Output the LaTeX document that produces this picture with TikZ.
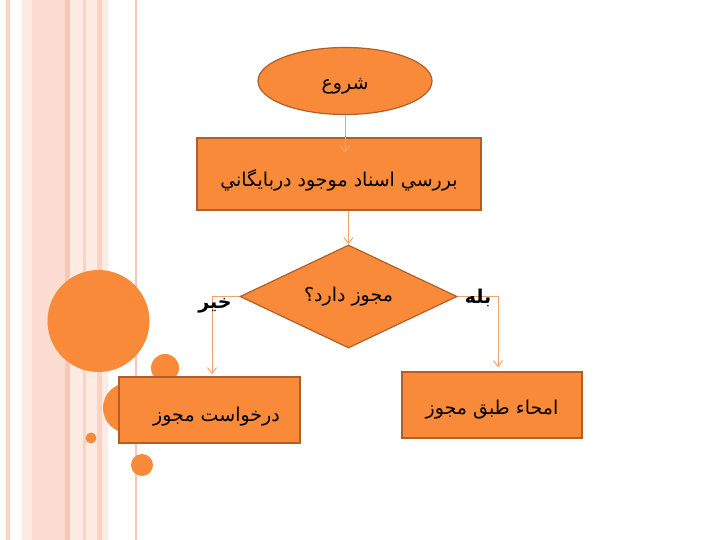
\documentclass[tikz,border=0pt]{standalone}
\usepackage{fontspec}
\setmainfont{DejaVu Sans}
\newfontfamily\arabicfont[Script=Arabic]{DejaVu Sans}
\TeXXeTstate=1
\usetikzlibrary{shapes.geometric,arrows.meta}
\definecolor{orfill}{HTML}{F98A3A}
\definecolor{orline}{HTML}{B25E28}
\definecolor{conn}{HTML}{F2A470}
\definecolor{stripeA}{HTML}{FDDDD1}
\definecolor{stripeB}{HTML}{FAC6B5}
\definecolor{stripeC}{HTML}{FEEBE3}
\definecolor{stripeD}{HTML}{FBD2C3}
\newcommand{\lowtxt}[2]{\raisebox{-#1}[\height][\depth]{#2}}
\tikzset{
  box/.style={draw=orline, line width=1.2pt, fill=orfill, rectangle, inner sep=0pt, font=\arabicfont\fontsize{19}{22}\selectfont},
  oval/.style={draw=orline, line width=1.2pt, fill=orfill, ellipse, inner sep=0pt, font=\arabicfont\fontsize{19}{22}\selectfont},
  dia/.style={draw=orline, line width=1.2pt, fill=orfill, diamond, aspect=2.1, inner sep=0pt, font=\arabicfont\fontsize{19}{22}\selectfont},
  conline/.style={draw=conn, line width=1pt},
  arr/.style={conline, -{Straight Barb[length=6pt,width=9pt]}},
  lbl/.style={inner sep=0pt, font=\arabicfont\bfseries\fontsize{19}{22}\selectfont},
  deco/.style={fill=orfill, draw=none}
}
\begin{document}
\begin{tikzpicture}[x=1pt,y=-1pt]
\useasboundingbox (0,0) rectangle (720,540);
\fill[white] (0,0) rectangle (720,540);
% stripes
\fill[stripeD] (6,0) rectangle (10,540);
\fill[stripeC] (22,0) rectangle (32,540);
\fill[stripeA] (32,0) rectangle (65,540);
\fill[stripeB] (65,0) rectangle (70,540);
\fill[stripeC] (70,0) rectangle (83,540);
\fill[stripeD] (83,0) rectangle (86,540);
\fill[stripeC] (86,0) rectangle (97,540);
\fill[stripeD] (97,0) rectangle (102,540);
\fill[stripeC] (102,0) rectangle (108,540);
\fill[stripeB] (135,0) rectangle (137,540);
% decorative circles
\fill[deco] (98.5,321) circle (51);
\fill[deco] (165,368) circle (14);
\fill[deco] (128,408) circle (25);
\fill[deco] (91,438) circle (5.5);
\fill[deco] (142,465) circle (11);
% nodes
\node[oval, minimum width=174pt, minimum height=67pt] (start) at (345,81) {\lowtxt{5pt}{\beginR شروع\endR}};
\node[box, minimum width=284pt, minimum height=72pt] (check) at (339,174) {\lowtxt{6pt}{\beginR بررسي اسناد موجود دربايگاني\endR}};
\node[dia, minimum width=217pt, minimum height=103pt] (q) at (348.5,296.5) {\beginR مجوز دارد؟\endR};
\node[box, minimum width=180pt, minimum height=66pt] (yes) at (492,405) {\lowtxt{5pt}{\beginR امحاء طبق مجوز\endR}};
\node[box, minimum width=181pt, minimum height=66pt] (no) at (209.5,410) {\lowtxt{7pt}{\hspace*{14pt}\beginR درخواست مجوز\endR}};
% connectors
\draw[arr] (start.south) -- ([yshift=-15pt]check.north -| start.south);
\draw[arr] (check.south -| q.north) -- (q.north);
\draw[arr] (q.east) -| ([xshift=6pt,yshift=4pt]yes.north);
\draw[arr] (q.west) -| ([xshift=2.5pt,yshift=2pt]no.north);
% labels
\node[lbl] (lyes) at (478,298) {\beginR بله\endR};
\node[lbl] (lno) at (215,306) {\beginR خير\endR};
\end{tikzpicture}
\end{document}
